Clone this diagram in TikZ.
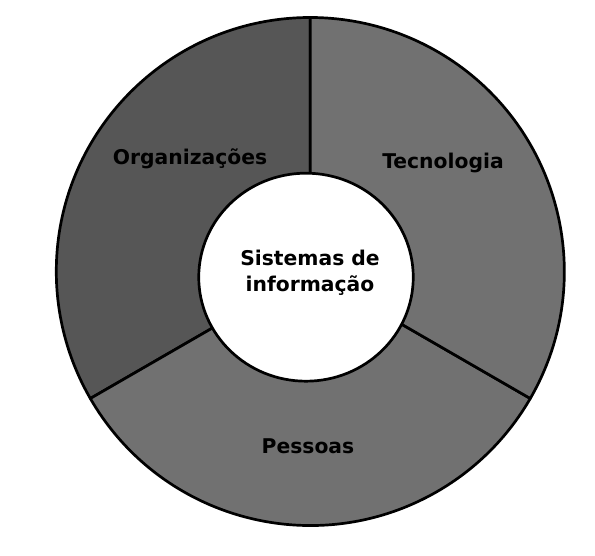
\documentclass[tikz,border=0pt]{standalone}
\usepackage{fontspec}
\setmainfont{DejaVu Sans}
\usetikzlibrary{shapes.geometric}
\definecolor{orgcol}{HTML}{565656}
\definecolor{segcol}{HTML}{717171}
\begin{document}
\begin{tikzpicture}[x=1pt,y=1pt,line width=2.7pt,line join=round,
    lbl/.style={font=\bfseries\fontsize{20.3}{25.5}\selectfont,align=center}]
    \useasboundingbox (0,0) rectangle (595,556);
    \coordinate (C) at (310.3,284.5);
    \filldraw[fill=orgcol] (C) -- ++(90:254) arc[start angle=90,end angle=210,radius=254] -- cycle;
    \filldraw[fill=segcol] (C) -- ++(210:254) arc[start angle=210,end angle=330,radius=254] -- cycle;
    \filldraw[fill=segcol] (C) -- ++(-30:254) arc[start angle=-30,end angle=90,radius=254] -- cycle;
    \node[ellipse,draw,fill=white,minimum width=214.5pt,minimum height=208pt,inner sep=0pt] (S) at (306,278.8) {};
    \node[lbl] (s) at (310,283) {Sistemas de\\informação};
    \node[lbl] (O) at (190,397) {Organizações};
    \node[lbl] (T) at (443,393) {Tecnologia};
    \node[lbl] (P) at (308,110) {Pessoas};
\end{tikzpicture}
\end{document}
